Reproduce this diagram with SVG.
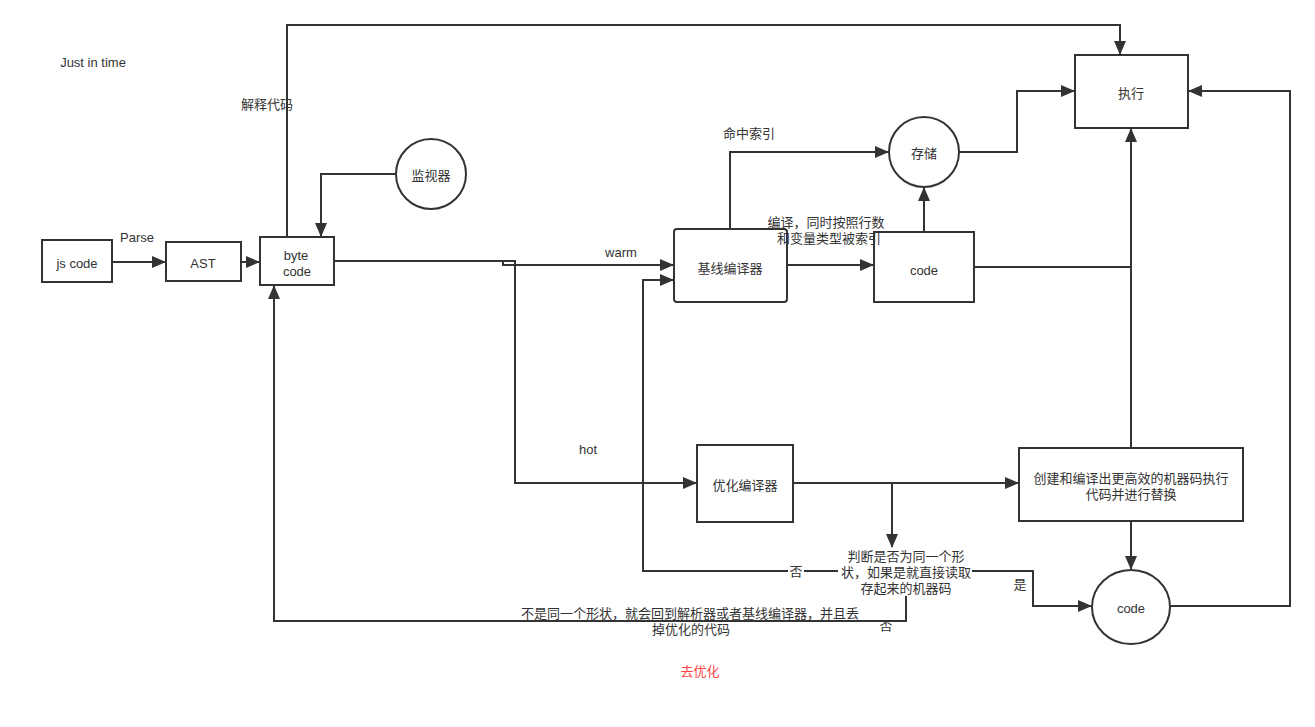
<svg xmlns="http://www.w3.org/2000/svg" width="1315" height="727" viewBox="0 0 1315 727">
<style>
.n{fill:#fff;stroke:#333;stroke-width:2}
.t{font-family:"Liberation Sans","Noto Sans CJK SC",sans-serif;font-size:13px;fill:#333;text-anchor:middle;dominant-baseline:central}
.c{fill:none;stroke:#333;stroke-width:2}
.bg{fill:#fff}
</style>
<defs>
<marker id="a" markerUnits="userSpaceOnUse" markerWidth="14" markerHeight="12" refX="13" refY="6" orient="auto"><path d="M0,0 L14,6 L0,12 Z" fill="#333"/></marker>
</defs>
<rect width="1315" height="727" fill="#fff"/>
<g id="connectors">
<path class="c" d="M112,262 H165" marker-end="url(#a)"/>
<path class="c" d="M241,262 H259" marker-end="url(#a)"/>
<path class="c" d="M287,237 V25 H1120 V54" marker-end="url(#a)"/>
<path class="c" d="M396,174 H321 V236" marker-end="url(#a)"/>
<path class="c" d="M334,261 H515 V483 H696" marker-end="url(#a)"/>
<path class="c" d="M334,261 H503 V265 H673" marker-end="url(#a)"/>
<path class="c" d="M730,229 V152 H888" marker-end="url(#a)"/>
<path class="c" d="M787,265 H873" marker-end="url(#a)"/>
<path class="c" d="M924,232 V188" marker-end="url(#a)"/>
<path class="c" d="M959,152 H1017 V91 H1074" marker-end="url(#a)"/>
<path class="c" d="M974,267 H1131"/>
<path class="c" d="M1131,448 V129" marker-end="url(#a)"/>
<path class="c" d="M793,483 H1018" marker-end="url(#a)"/>
<path class="c" d="M892,483 V547" marker-end="url(#a)"/>
<path class="c" d="M838,571 H643 V280 H673" marker-end="url(#a)"/>
<path class="c" d="M972,571 H1033 V606 H1091" marker-end="url(#a)"/>
<path class="c" d="M906,595 V621 H274 V286" marker-end="url(#a)"/>
<path class="c" d="M1131,521 V569" marker-end="url(#a)"/>
<path class="c" d="M1170,606 H1290 V91 H1189" marker-end="url(#a)"/>
</g>
<g id="jscode"><rect class="n" x="42" y="240" width="70" height="42"/><text class="t" x="77" y="263">js code</text></g>
<g id="ast"><rect class="n" x="166" y="242" width="75" height="39"/><text class="t" x="203" y="263">AST</text></g>
<g id="bytecode"><rect class="n" x="260" y="237" width="74" height="48"/><text class="t" x="296" y="255">byte</text><text class="t" x="297" y="271">code</text></g>
<g id="monitor"><circle class="n" cx="431" cy="174" r="35"/><text class="t" x="431" y="175">监视器</text></g>
<g id="baseline"><rect class="n" x="674" y="229" width="113" height="73" rx="3"/><text class="t" x="730" y="268">基线编译器</text></g>
<g id="code1"><rect class="n" x="874" y="232" width="100" height="70"/><text class="t" x="924" y="270">code</text></g>
<g id="store"><circle class="n" cx="924" cy="152" r="35"/><text class="t" x="924" y="153">存储</text></g>
<g id="exec"><rect class="n" x="1075" y="55" width="113" height="73"/><text class="t" x="1131" y="93">执行</text></g>
<g id="opt"><rect class="n" x="697" y="445" width="96" height="77"/><text class="t" x="745" y="485">优化编译器</text></g>
<g id="create"><rect class="n" x="1019" y="448" width="224" height="73"/><text class="t" x="1131" y="478">创建和编译出更高效的机器码执行</text><text class="t" x="1131" y="494">代码并进行替换</text></g>
<g id="code2"><ellipse class="n" cx="1131" cy="607" rx="39" ry="37"/><text class="t" x="1131" y="608">code</text></g>
<g id="judge"><rect class="bg" x="838" y="548" width="134" height="48"/><text class="t" x="906" y="556">判断是否为同一个形</text><text class="t" x="906" y="572">状，如果是就直接读取</text><text class="t" x="906" y="588">存起来的机器码</text></g>
<g id="labels">
<text class="t" x="93" y="62">Just in time</text>
<text class="t" x="267" y="104">解释代码</text>
<text class="t" x="137" y="237">Parse</text>
<text class="t" x="621" y="252">warm</text>
<text class="t" x="588" y="449">hot</text>
<text class="t" x="749" y="133">命中索引</text>
<text class="t" x="826" y="222">编译，同时按照行数</text>
<text class="t" x="829" y="238">和变量类型被索引</text>
<rect class="bg" x="788" y="563" width="16" height="16"/>
<text class="t" x="796" y="571">否</text>
<text class="t" x="1020" y="584">是</text>
<text class="t" x="690" y="613">不是同一个形状，就会回到解析器或者基线编译器，并且丢</text>
<text class="t" x="691" y="629">掉优化的代码</text>
<text class="t" x="886" y="625">否</text>
<text class="t" x="700" y="671" style="fill:#f44">去优化</text>
</g>
</svg>
